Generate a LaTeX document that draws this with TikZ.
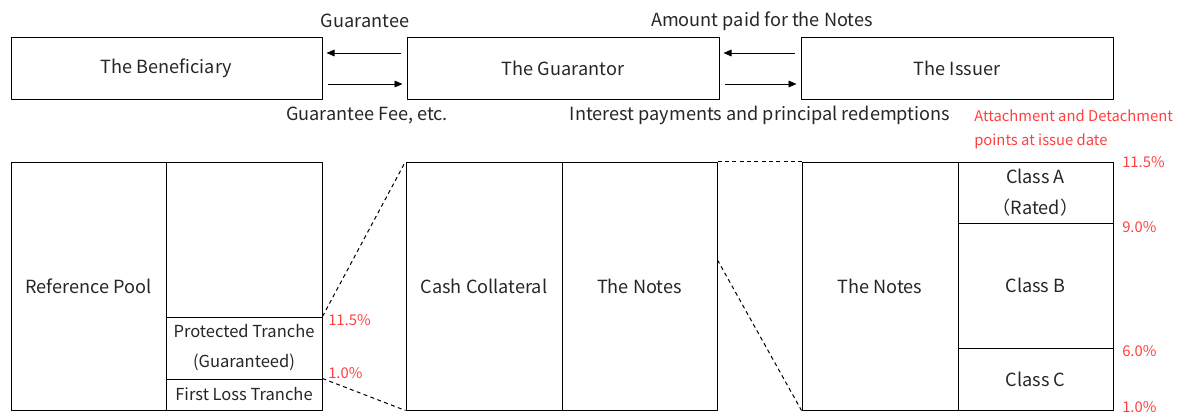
\documentclass[tikz,border=0pt]{standalone}
\usepackage{fontspec}
\setmainfont{Noto Sans CJK JP}
\usetikzlibrary{arrows.meta}
\definecolor{ink}{RGB}{38,38,38}
\definecolor{pct}{RGB}{255,64,64}
\begin{document}
\begin{tikzpicture}[x=0.75pt,y=-0.75pt,line join=round,
  box/.style={draw=black,line width=0.75pt,inner sep=0pt,text=ink,
    font=\fontsize{13.6}{16}\selectfont},
  tag/.style={text=ink,inner sep=0pt,font=\fontsize{13.6}{16}\selectfont},
  pctl/.style={text=pct,inner sep=0pt,font=\fontsize{11.1}{18}\selectfont},
  flow/.style={line width=0.6pt,-{Triangle[length=6pt,width=5pt]},
    shorten <=4pt,shorten >=3pt},
  zoom/.style={line width=0.75pt,dash pattern=on 3pt off 2.5pt}]
  \useasboundingbox (0,0) rectangle (1179,414);
  \node[box,minimum width=233.25pt,minimum height=46.5pt] (ben) at (166.5,68) {The Beneficiary};
  \node[box,minimum width=234pt,minimum height=46.5pt] (guar) at (563,68) {The Guarantor};
  \node[box,minimum width=234pt,minimum height=46.5pt] (iss) at (957,68) {The Issuer};
  \draw[flow] ([yshift=11.25pt]guar.west) -- ([yshift=11.25pt]ben.east);
  \draw[flow] ([yshift=-12pt]ben.east) -- ([yshift=-12pt]guar.west);
  \draw[flow] ([yshift=11.25pt]iss.west) -- ([yshift=11.25pt]guar.east);
  \draw[flow] ([yshift=-12pt]guar.east) -- ([yshift=-12pt]iss.west);
  \node[tag] (gt) at (365,21) {Guarantee};
  \node[tag] (fee) at (367,115) {Guarantee Fee, etc.};
  \node[tag] (paid) at (762,21) {Amount paid for the Notes};
  \node[tag] (int) at (760,115) {Interest payments and principal redemptions};
  \node[pctl,anchor=north west,align=left] (ad) at (974,109) {Attachment and Detachment\\points at issue date};
  \node[box,minimum width=116.25pt,minimum height=186pt] (pool) at (88.5,286) {Reference Pool};
  \node[box,minimum width=117pt,minimum height=116.25pt] (upper) at (244,239.5) {};
  \node[box,minimum width=117pt,minimum height=46.5pt,align=center,
    font=\fontsize{12.4}{22.5}\selectfont] (prot) at (244,348) {Protected Tranche\\(Guaranteed)};
  \node[box,minimum width=117pt,minimum height=23.25pt,
    font=\fontsize{12.4}{15}\selectfont] (first) at (244,394.5) {First Loss Tranche};
  \node[box,minimum width=117pt,minimum height=186pt] (cash) at (484,286) {Cash Collateral};
  \node[box,minimum width=116.25pt,minimum height=186pt] (notes) at (639.5,286) {The Notes};
  \node[box,minimum width=117pt,minimum height=186pt] (notes2) at (880,286) {The Notes};
  \node[box,minimum width=116.25pt,minimum height=45.75pt,align=center,
    font=\fontsize{13.6}{23}\selectfont] (clA) at (1035.5,192.5) {Class A\\（Rated）};
  \node[box,minimum width=116.25pt,minimum height=93.75pt] (clB) at (1035.5,285.5) {Class B};
  \node[box,minimum width=116.25pt,minimum height=46.5pt] (clC) at (1035.5,379) {Class C};
  \draw[zoom] (prot.north east) -- (cash.north west);
  \draw[zoom] (first.north east) -- (cash.south west);
  \draw[zoom] (notes.north east) -- (notes2.north west);
  \draw[zoom] ([yshift=19.5pt]notes.east) -- (notes2.south west);
  \node[pctl,anchor=west] (p1) at (328,320) {11.5\%};
  \node[pctl,anchor=west] (p2) at (328,373) {1.0\%};
  \node[pctl,anchor=west] (q1) at (1122,162) {11.5\%};
  \node[pctl,anchor=west] (q2) at (1122,227) {9.0\%};
  \node[pctl,anchor=west] (q3) at (1122,351) {6.0\%};
  \node[pctl,anchor=west] (q4) at (1122,407) {1.0\%};
\end{tikzpicture}
\end{document}
